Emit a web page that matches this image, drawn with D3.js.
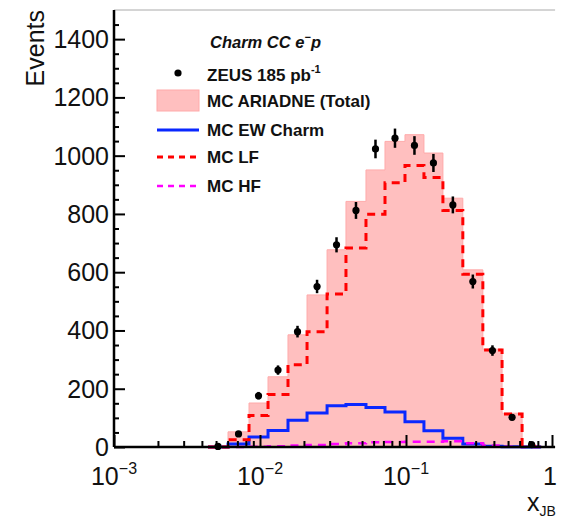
<!DOCTYPE html>
<html>
<head>
<meta charset="utf-8">
<script src="https://cdn.jsdelivr.net/npm/d3@7"></script>
<style>
  body { margin: 0; background: #fff; }
  text { font-family: "Liberation Sans", Arial, Helvetica, sans-serif; }
</style>
</head>
<body>
<script>
// bin edges in x_JB (log-spaced)
const binEdges = [0.0044, 0.00604, 0.00841, 0.01135, 0.01555, 0.021, 0.0288, 0.0388, 0.0532,
  0.0718, 0.0984, 0.1327, 0.179, 0.245, 0.336, 0.455, 0.624, 0.842];

// ZEUS data per bin and its error
const zeusData = [2, 45, 176, 264, 396, 551, 694, 812, 1023, 1060, 1035, 975, 831, 568, 331, 102, 8];
const zeusErr  = [2, 7, 13, 16, 20, 23, 26, 29, 32, 33, 32, 31, 29, 24, 18, 10, 3];

// MC histograms
const mcTotal  = [0, 52, 151, 241, 385, 522, 677, 843, 951, 1049, 1072, 1009, 854, 608, 336, 116, 5];
const mcLF     = [0, 25, 108, 180, 282, 396, 525, 683, 799, 907, 966, 925, 812, 593, 333, 113, 3];
const mcEW     = [0, 10, 34, 57, 92, 117, 142, 146, 136, 120, 87, 56, 30, 10, 3, 1, 0];
const mcHF     = [0, 0, 1, 3, 5, 7, 10, 13, 16, 17, 18, 18, 20, 13, 5, 1, 0];

const yMajor = [0, 200, 400, 600, 800, 1000, 1200, 1400];
const xMajor = [{v: 1e-3, b: '10', e: '\u22123'}, {v: 1e-2, b: '10', e: '\u22122'},
  {v: 1e-1, b: '10', e: '\u22121'}, {v: 1, b: '1', e: ''}];

const width = 563, height = 521;
const svg = d3.select('body').append('svg')
  .attr('width', width)
  .attr('height', height);

const x = d3.scaleLog().domain([1e-3, 1]).range([114, 552]);
const y = d3.scaleLinear().domain([0, 1500]).range([447, 10]);
const xRight = x(1.05);

// step path helper
function steps(vals) {
  const pts = [[binEdges[0], 0]];
  vals.forEach((v, i) => {
    pts.push([binEdges[i], v]);
    pts.push([binEdges[i + 1], v]);
  });
  pts.push([binEdges[binEdges.length - 1], 0]);
  return pts;
}
const line = d3.line().x(d => x(d[0])).y(d => y(Math.max(d[1], 0)));
const area = d3.area().x(d => x(d[0])).y0(y(0)).y1(d => y(d[1]));

// frame (top only, faint)
svg.append('path')
  .attr('d', `M${x(1e-3)},${y(1500)}H${xRight}`)
  .attr('fill', 'none')
  .attr('stroke', '#aaa')
  .attr('stroke-width', 1);

// total MC
svg.append('path')
  .datum(steps(mcTotal))
  .attr('d', area)
  .attr('fill', '#ffbfbf')
  .attr('stroke', '#ffaaaa')
  .attr('stroke-width', 1);

// EW charm
svg.append('path')
  .datum(steps(mcEW))
  .attr('d', line)
  .attr('fill', 'none')
  .attr('stroke', '#0a28ff')
  .attr('stroke-width', 3);

// HF
svg.append('path')
  .datum(steps(mcHF))
  .attr('d', line)
  .attr('fill', 'none')
  .attr('stroke', '#ff00ff')
  .attr('stroke-width', 2.5)
  .attr('stroke-dasharray', '8,6');

// LF
svg.append('path')
  .datum(steps(mcLF))
  .attr('d', line)
  .attr('fill', 'none')
  .attr('stroke', '#ff0000')
  .attr('stroke-width', 3)
  .attr('stroke-dasharray', '8,6');

// data points
const centers = zeusData.map((v, i) => Math.sqrt(binEdges[i] * binEdges[i + 1]));
const pts = svg.append('g').attr('class', 'zeus');
pts.selectAll('line')
  .data(zeusData)
  .enter().append('line')
  .attr('x1', (d, i) => x(centers[i]))
  .attr('x2', (d, i) => x(centers[i]))
  .attr('y1', (d, i) => y(Math.max(d - zeusErr[i], 0)))
  .attr('y2', (d, i) => y(d + zeusErr[i]))
  .attr('stroke', '#000')
  .attr('stroke-width', 2.5);
pts.selectAll('circle')
  .data(zeusData)
  .enter().append('circle')
  .attr('cx', (d, i) => x(centers[i]))
  .attr('cy', d => y(d))
  .attr('r', 3.6)
  .attr('fill', '#000');

// axes
const xMinorVals = [];
[1e-3, 1e-2, 1e-1].forEach(dec => {
  for (let k = 2; k <= 9; k++) xMinorVals.push(dec * k);
});

const gx = svg.append('g').attr('transform', `translate(0,${y(0)})`);
gx.call(d3.axisBottom(x).tickValues(xMinorVals).tickSize(-6).tickFormat(''));
gx.append('g').call(d3.axisBottom(x).tickValues(xMajor.map(d => d.v)).tickSize(-12).tickFormat(''));
gx.selectAll('.domain').remove();
gx.selectAll('line').attr('stroke', '#000').attr('stroke-width', 2);
gx.append('line')
  .attr('x1', x(1e-3)).attr('x2', xRight)
  .attr('stroke', '#000').attr('stroke-width', 2.5);

const gy = svg.append('g').attr('transform', `translate(${x(1e-3)},0)`);
gy.call(d3.axisLeft(y).tickValues(d3.range(50, 1500, 50).filter(v => v % 200 !== 0)).tickSize(-5).tickFormat(''));
gy.append('g').call(d3.axisLeft(y).tickValues(yMajor).tickSize(-11).tickFormat(''));
gy.selectAll('.domain').remove();
gy.selectAll('line').attr('stroke', '#000').attr('stroke-width', 2);
gy.append('line')
  .attr('y1', y(0)).attr('y2', y(1500))
  .attr('stroke', '#000').attr('stroke-width', 2.5);

// y tick labels
svg.append('g').selectAll('text')
  .data(yMajor)
  .enter().append('text')
  .attr('x', 109)
  .attr('y', d => y(d) + 9)
  .attr('text-anchor', 'end')
  .attr('font-size', 25)
  .attr('fill', '#111')
  .text(d => d);

// x tick labels
const xl = svg.append('g').selectAll('text')
  .data(xMajor)
  .enter().append('text')
  .attr('x', d => x(d.v) + (d.e ? 0 : -2))
  .attr('y', 485)
  .attr('text-anchor', 'middle')
  .attr('font-size', 25)
  .attr('fill', '#111');
xl.append('tspan').text(d => d.b);
xl.append('tspan')
  .attr('font-size', 16)
  .attr('dy', -11)
  .text(d => d.e);

// axis titles
svg.append('text')
  .attr('transform', 'translate(44,10) rotate(-90)')
  .attr('text-anchor', 'end')
  .attr('font-size', 25)
  .attr('fill', '#111')
  .text('Events');

const xt = svg.append('text')
  .attr('x', 527)
  .attr('y', 511)
  .attr('font-size', 25)
  .attr('fill', '#111');
xt.append('tspan').text('x');
xt.append('tspan').attr('font-size', 14).attr('dy', 5).text('JB');

// legend
const leg = svg.append('g');
const title = leg.append('text')
  .attr('x', 210).attr('y', 48)
  .attr('font-size', 16.5)
  .attr('font-weight', 'bold')
  .attr('font-style', 'italic')
  .attr('fill', '#111');
title.append('tspan').text('Charm CC e');
title.append('tspan').attr('font-size', 11).attr('dy', -7).text('\u2212');
title.append('tspan').attr('dy', 7).text('p');

const entries = [
  {label: 'ZEUS 185 pb', sup: '-1', type: 'point', y: 75},
  {label: 'MC ARIADNE (Total)', type: 'box', y: 101},
  {label: 'MC EW Charm', type: 'ew', y: 130},
  {label: 'MC LF', type: 'lf', y: 157},
  {label: 'MC HF', type: 'hf', y: 186}
];

entries.forEach(e => {
  const t = leg.append('text')
    .attr('x', 207).attr('y', e.y + 6)
    .attr('font-size', 17)
    .attr('font-weight', 'bold')
    .attr('fill', '#111')
    .text(e.label);
  if (e.sup) {
    t.append('tspan').attr('font-size', 11).attr('dy', -8).text(e.sup);
  }
  if (e.type === 'point') {
    leg.append('circle').attr('cx', 178).attr('cy', e.y - 2).attr('r', 3.6).attr('fill', '#000');
  } else if (e.type === 'box') {
    leg.append('rect')
      .attr('x', 157).attr('y', e.y - 11).attr('width', 42).attr('height', 21)
      .attr('fill', '#ffbfbf').attr('stroke', '#ffaaaa');
  } else {
    const st = {ew: ['#0a28ff', 3, null], lf: ['#ff0000', 3, '6,5'], hf: ['#ff00ff', 2.5, '6,5']}[e.type];
    leg.append('line')
      .attr('x1', 157).attr('x2', 199).attr('y1', e.y).attr('y2', e.y)
      .attr('stroke', st[0]).attr('stroke-width', st[1])
      .attr('stroke-dasharray', st[2]);
  }
});
</script>
</body>
</html>
